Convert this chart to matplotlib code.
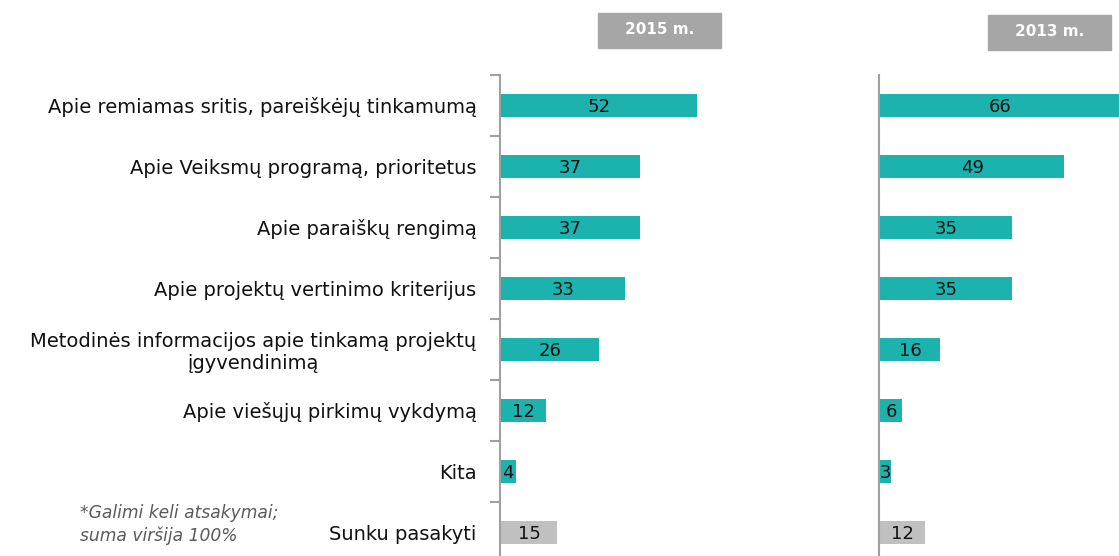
import matplotlib
matplotlib.use("Agg")
import matplotlib.pyplot as plt
import numpy as np

categories = [
    "Apie remiamas sritis, pareiškėjų tinkamumą",
    "Apie Veiksmų programą, prioritetus",
    "Apie paraiškų rengimą",
    "Apie projektų vertinimo kriterijus",
    "Metodinės informacijos apie tinkamą projektų\nįgyvendinimą",
    "Apie viešųjų pirkimų vykdymą",
    "Kita",
    "Sunku pasakyti",
]
values_2015 = [52, 37, 37, 33, 26, 12, 4, 15]
values_2013 = [66, 49, 35, 35, 16, 6, 3, 12]
panel_titles = ["2015 m.", "2013 m."]

TEAL = "#1cb2ae"
GREY_BAR = "#c0c0c0"
AXIS = "#a0a0a0"

plt.rcParams['font.family'] = ["DejaVu Sans"]

W, H = 1119, 556
fig = plt.figure(figsize=(W / 100, H / 100), dpi=100)

px_per_unit = 3.77
n = len(categories)
y = np.arange(n)
top_px, row_px = 75, 61
bottom_px = top_px + n * row_px


def make_axes(x0, x1):
    return fig.add_axes([x0 / W, 1 - bottom_px / H, (x1 - x0) / W, (bottom_px - top_px) / H])


panels = [(make_axes(500, 720), values_2015, 220), (make_axes(879, W), values_2013, W - 879)]

for i, (ax, vals, width_px) in enumerate(panels):
    xmax = width_px / px_per_unit
    colors = [TEAL] * (n - 1) + [GREY_BAR]
    ax.barh(y, vals, height=0.39, color=colors, left=0.2)
    ax.set_xlim(0, xmax)
    ax.set_ylim(n - 0.5, -0.5)
    for yi, v in zip(y, vals):
        xc = min(v, xmax) / 2 + 0.2
        ax.text(xc, yi + 0.03, str(v), ha="center", va="center", fontsize=13, color="#111111")
    for s in ["top", "right", "bottom"]:
        ax.spines[s].set_visible(False)
    ax.spines["left"].set_color(AXIS)
    ax.spines["left"].set_linewidth(1.5)
    ax.set_xticks([])
    if i == 0:
        ax.set_yticks(y, categories, fontsize=14, color="#111111")
        ax.tick_params(axis="y", which="major", length=0, pad=17)
        ax.set_yticks(np.arange(n + 1) - 0.5, minor=True)
        ax.tick_params(axis="y", which="minor", length=7, width=1.5, color=AXIS, direction="out")
        for lab in ax.get_yticklabels():
            lab.set_multialignment("center")
    else:
        ax.set_yticks([])
    ax.patch.set_alpha(0)

# header boxes
for title, (bx0, by0) in zip(panel_titles, [(598, 13), (988, 15)]):
    fig.text((bx0 + 61.5) / W, 1 - (by0 + 17) / H, title, ha="center", va="center",
             fontsize=11, fontweight="bold", color="white")
    fig.patches.append(plt.Rectangle((bx0 / W, 1 - (by0 + 35) / H), 123 / W, 35 / H,
                                     transform=fig.transFigure, color="#a6a6a6", zorder=0))

fig.text(80 / W, 1 - 513 / H, "*Galimi keli atsakymai;", fontsize=12.3, style="italic",
         color="#5a5a5a", va="center")
fig.text(80 / W, 1 - 536 / H, "suma viršija 100%", fontsize=12.3, style="italic",
         color="#5a5a5a", va="center")

fig.savefig("out.png", dpi=100)
